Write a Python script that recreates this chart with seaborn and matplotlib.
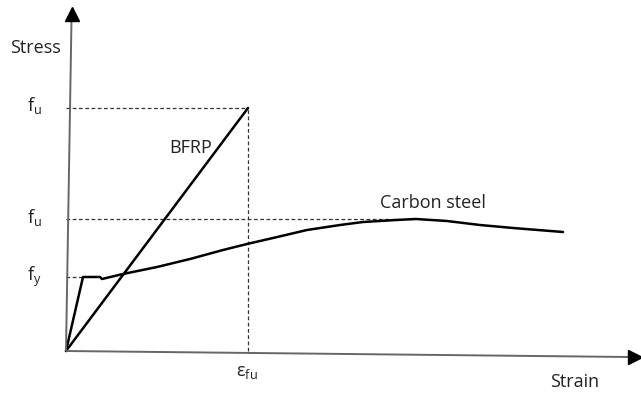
import matplotlib
matplotlib.use("Agg")
import matplotlib.pyplot as plt
import seaborn as sns
import pandas as pd

sns.set_theme(style="white")
plt.rcParams['font.family'] = ['Open Sans', 'DejaVu Sans']

# schematic data (arbitrary units)
steel_strain = [0, 17, 34, 36, 57, 91, 124, 157, 181, 207, 241, 274, 297, 330, 350, 381, 414, 447, 497]
steel_stress = [0, 74, 74, 72, 77, 84, 92, 101, 107, 113, 121, 126, 129, 131, 132, 130, 126, 123, 119]
bfrp_strain = [0, 182]
bfrp_stress = [0, 243]
fu_bfrp = 243
fu_steel = 132
fy_steel = 74
eps_fu = 182
peak_strain = 345

steel = pd.DataFrame({"strain": steel_strain, "stress": steel_stress})
bfrp = pd.DataFrame({"strain": bfrp_strain, "stress": bfrp_stress})

fig = plt.figure(figsize=(6.41, 4.03), dpi=100)
ax = fig.add_axes([0, 0, 1, 1])
ax.set_xlim(-66, 575)
ax.set_ylim(-52, 351)
ax.axis("off")

dash = dict(color="#333333", lw=0.9, ls=(0, (3, 2)))
ax.plot([0, eps_fu], [fu_bfrp, fu_bfrp], **dash)
ax.plot([eps_fu, eps_fu], [0, fu_bfrp], **dash)
ax.plot([0, peak_strain], [fu_steel, fu_steel], **dash)
ax.plot([0, 17], [fy_steel, fy_steel], **dash)

sns.lineplot(data=bfrp, x="strain", y="stress", ax=ax, color="black", lw=1.8, sort=False)
sns.lineplot(data=steel, x="strain", y="stress", ax=ax, color="black", lw=1.8, sort=False)

# axes
ax.plot([0, 5.5], [0, 332], color="#666666", lw=1.4, solid_capstyle="butt")
ax.plot([0, 563], [0, -6], color="#666666", lw=1.4, solid_capstyle="butt")
ax.plot([5.6], [337.5], marker="^", ms=10, color="black", mec="black", clip_on=False)
ax.plot([568.5], [-6], marker=">", ms=10, color="black", mec="black", clip_on=False)
ax.set_xlim(-66, 575)
ax.set_ylim(-52, 351)

fs = 13
tc = "#222222"
ax.text(-56, 303, "Stress", fontsize=fs, ha="left", va="center", color=tc)
ax.text(-39, 246, "f$_\\mathregular{u}$", fontsize=fs, ha="left", va="center", color=tc)
ax.text(-39, 133, "f$_\\mathregular{u}$", fontsize=fs, ha="left", va="center", color=tc)
ax.text(-39, 74, "f$_\\mathregular{y}$", fontsize=fs, ha="left", va="center", color=tc)
ax.text(103, 203, "BFRP", fontsize=fs, ha="left", va="center", color=tc)
ax.text(314, 148, "Carbon steel", fontsize=fs, ha="left", va="center", color=tc)
ax.text(170, -21, "ε$_\\mathregular{fu}$", fontsize=fs, ha="left", va="center", color=tc)
ax.text(484, -31, "Strain", fontsize=fs, ha="left", va="center", color=tc)

fig.savefig("out.png", dpi=100)
